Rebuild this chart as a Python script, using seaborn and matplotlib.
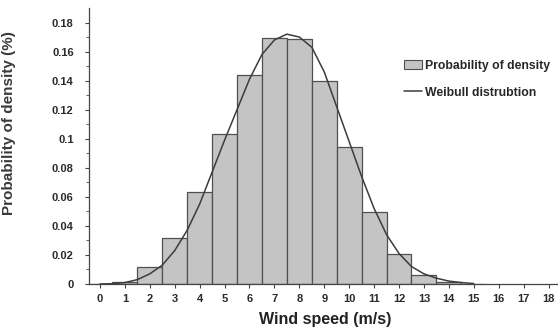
import numpy as np
import pandas as pd
import matplotlib
matplotlib.use("Agg")
import matplotlib.pyplot as plt
import seaborn as sns
from matplotlib.patches import Patch
from matplotlib.lines import Line2D

# Histogram data (wind speed bins, probability density)
speeds = [0, 1, 2, 3, 4, 5, 6, 7, 8, 9, 10, 11, 12, 13, 14, 15]
probs = [0.0, 0.0015, 0.012, 0.032, 0.063, 0.1035, 0.144, 0.1695, 0.1685, 0.1395,
         0.094, 0.0495, 0.0205, 0.0065, 0.0015, 0.0]

# Weibull curve
curve_x = [0, 0.5, 1.0, 1.5, 2.0, 2.5, 3.0, 3.5, 4.0, 4.5, 5.0, 5.5, 6.0, 6.5, 7.0,
           7.5, 8.0, 8.5, 9.0, 9.5, 10.0, 10.5, 11.0, 11.5, 12.0, 12.5, 13.0,
           13.5, 14.0, 14.5, 15.0]
curve_y = [0.0, 0.0002, 0.001, 0.003, 0.007, 0.013, 0.023, 0.037, 0.055, 0.077,
           0.099, 0.120, 0.141, 0.158, 0.168, 0.172, 0.170, 0.163, 0.146, 0.122,
           0.098, 0.074, 0.052, 0.034, 0.021, 0.012, 0.007, 0.004, 0.002, 0.001,
           0.0003]

x_ticks = list(range(0, 19))
y_ticks = [0, 0.02, 0.04, 0.06, 0.08, 0.1, 0.12, 0.14, 0.16, 0.18]
y_tick_labels = ["0", "0.02", "0.04", "0.06", "0.08", "0.1", "0.12", "0.14", "0.16", "0.18"]

sns.set_theme(style="ticks")
plt.rcParams['font.family'] = ['Liberation Sans', 'DejaVu Sans']

fig = plt.figure(figsize=(5.58, 3.31), dpi=100)
ax = fig.add_axes([89 / 558, 47 / 331, 472 / 558, 276 / 331])

df = pd.DataFrame({"speed": speeds, "prob": probs})
sns.histplot(data=df, x="speed", weights="prob", discrete=True, stat="count",
             color="#c4c4c4", edgecolor="#505050", linewidth=0.9, alpha=1.0, ax=ax)
cdf = pd.DataFrame({"x": curve_x, "y": curve_y})
sns.lineplot(data=cdf, x="x", y="y", color="#3c3c3c", linewidth=1.1, ax=ax)

ax.set_xlim(-0.44, 18.5)
ax.set_ylim(0, 0.19)
ax.set_xticks(x_ticks)
ax.set_xticklabels([str(t) for t in x_ticks], fontsize=8, fontweight="bold", color="#2a2a2a")
ax.set_yticks(y_ticks)
ax.set_yticklabels(y_tick_labels, fontsize=8, fontweight="bold", color="#2a2a2a")
ax.set_yticks(np.arange(0.01, 0.19, 0.02), minor=True)
ax.tick_params(axis="x", which="major", length=3, width=0.8, color="#444444", pad=4)
ax.tick_params(axis="y", which="major", length=3, width=0.8, color="#444444", pad=8)
ax.tick_params(axis="y", which="minor", length=2, width=0.6, color="#444444")

ax.set_xlabel("Wind speed (m/s)", fontsize=11.5, fontweight="bold", color="#222222", labelpad=6)
ax.set_ylabel("Probability of density (%)", fontsize=11, fontweight="bold",
              color="#3a3a3a")
ax.yaxis.set_label_coords(-0.155, 0.583)

for s in ["top", "right"]:
    ax.spines[s].set_visible(False)
for s in ["left", "bottom"]:
    ax.spines[s].set_color("#444444")
    ax.spines[s].set_linewidth(0.9)

handles = [Patch(facecolor="#c4c4c4", edgecolor="#505050", linewidth=0.8),
           Line2D([0], [0], color="#3c3c3c", linewidth=1.1)]
labels = ["Probability of density", "Weibull distrubtion"]
fig.legend(handles, labels, loc="upper left", bbox_to_anchor=(404 / 558, 1 - 60 / 331),
           frameon=False, borderpad=0, borderaxespad=0, handlelength=1.5,
           handleheight=0.7, handletextpad=0.2, labelspacing=1.2,
           prop={"size": 8.8, "weight": "bold"})

fig.savefig("out.png", dpi=100)
